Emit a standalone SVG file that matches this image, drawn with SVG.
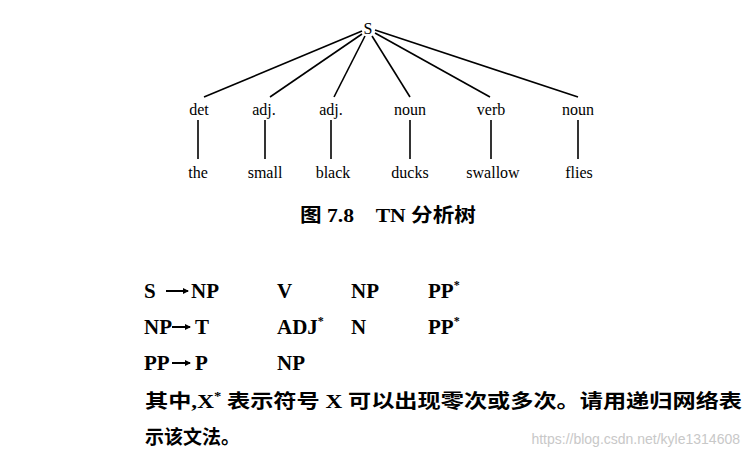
<svg xmlns="http://www.w3.org/2000/svg" width="752" height="456" viewBox="0 0 752 456">
<style>
.t{font-family:"Liberation Serif",serif;font-size:16px;fill:#000;text-anchor:middle}
.g{font-family:"Liberation Serif",serif;font-size:21px;font-weight:bold;fill:#000}
.c{font-family:"Liberation Serif","Noto Sans CJK SC",sans-serif;font-size:19px;font-weight:bold;fill:#000}
.e{stroke:#000;stroke-width:1.6;fill:none}
.a{stroke:#000;stroke-width:2;fill:none}
</style>
<defs><marker id="ah" markerWidth="6" markerHeight="6" refX="5" refY="3" orient="auto" markerUnits="userSpaceOnUse"><path d="M0,0 L6,3 L0,6 z" fill="#000"/></marker></defs>
<rect width="752" height="456" fill="#fff"/>
<g id="connectors">
<line class="e" x1="362" y1="31" x2="204" y2="97"/>
<line class="e" x1="362" y1="34" x2="270" y2="97"/>
<line class="e" x1="365" y1="36" x2="334" y2="97"/>
<line class="e" x1="372" y1="36" x2="410" y2="97"/>
<line class="e" x1="375" y1="33" x2="490" y2="97"/>
<line class="e" x1="375" y1="30" x2="578" y2="97"/>
<line class="e" x1="198" y1="120" x2="198" y2="159"/>
<line class="e" x1="265" y1="120" x2="265" y2="159"/>
<line class="e" x1="331" y1="120" x2="331" y2="159"/>
<line class="e" x1="410" y1="120" x2="410" y2="159"/>
<line class="e" x1="491" y1="120" x2="491" y2="159"/>
<line class="e" x1="578" y1="120" x2="578" y2="159"/>
<line class="a" x1="166" y1="291" x2="188" y2="291" marker-end="url(#ah)"/>
<line class="a" x1="172" y1="327" x2="190" y2="327" marker-end="url(#ah)"/>
<line class="a" x1="172" y1="363" x2="190" y2="363" marker-end="url(#ah)"/>
</g>
<g id="S"><text class="t" x="368" y="34">S</text></g>
<g id="det"><text class="t" x="199" y="115">det</text></g>
<g id="adj1"><text class="t" x="264" y="115">adj.</text></g>
<g id="adj2"><text class="t" x="331" y="115">adj.</text></g>
<g id="noun1"><text class="t" x="410" y="115">noun</text></g>
<g id="verb"><text class="t" x="491" y="115">verb</text></g>
<g id="noun2"><text class="t" x="578" y="115">noun</text></g>
<g id="the"><text class="t" x="198" y="178">the</text></g>
<g id="small"><text class="t" x="265" y="178">small</text></g>
<g id="black"><text class="t" x="333" y="178">black</text></g>
<g id="ducks"><text class="t" x="410" y="178">ducks</text></g>
<g id="swallow"><text class="t" x="493" y="178">swallow</text></g>
<g id="flies"><text class="t" x="579" y="178">flies</text></g>
<text class="c" x="300" y="222" font-size="17" textLength="176" lengthAdjust="spacingAndGlyphs">图 7.8　TN 分析树</text>
<text class="g" x="144" y="298">S</text>
<text class="g" x="191" y="298">NP</text>
<text class="g" x="277" y="298">V</text>
<text class="g" x="351" y="298">NP</text>
<text class="g" x="428" y="298">PP<tspan font-size="12" dy="-9">*</tspan></text>
<text class="g" x="144" y="334">NP</text>
<text class="g" x="195" y="334">T</text>
<text class="g" x="277" y="334">ADJ<tspan font-size="12" dy="-9">*</tspan></text>
<text class="g" x="351" y="334">N</text>
<text class="g" x="428" y="334">PP<tspan font-size="12" dy="-9">*</tspan></text>
<text class="g" x="144" y="370">PP</text>
<text class="g" x="195" y="370">P</text>
<text class="g" x="277" y="370">NP</text>
<text class="c" x="145" y="408" textLength="597" lengthAdjust="spacingAndGlyphs">其中,X<tspan font-size="12" dy="-8">*</tspan><tspan dy="8"> 表示符号 X 可以出现零次或多次。请用递归网络表</tspan></text>
<text class="c" x="145" y="444">示该文法。</text>
<text x="740" y="444" text-anchor="end" font-family="Liberation Sans,sans-serif" font-size="14" fill="#c8c8c8">https://blog.csdn.net/kyle1314608</text>
</svg>
